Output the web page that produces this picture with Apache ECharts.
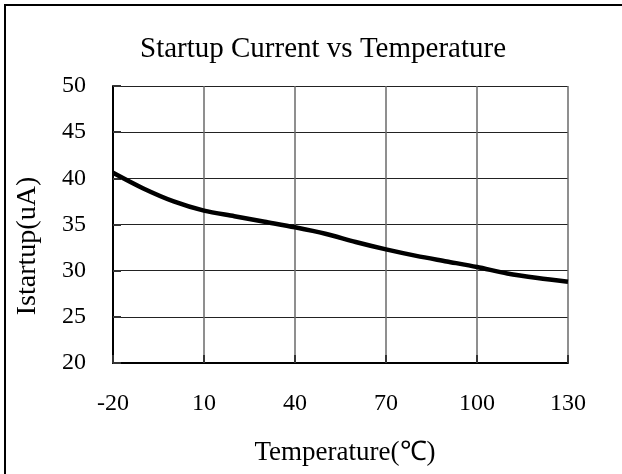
<!DOCTYPE html>
<html>
<head>
<meta charset="utf-8">
<script src="https://cdn.jsdelivr.net/npm/echarts@6/dist/echarts.min.js"></script>
<style>
html,body{margin:0;padding:0;background:#fff;}
#c{width:622px;height:474px;}
</style>
</head>
<body>
<div id="c"></div>
<script>
const titleText = 'Startup Current vs Temperature';
const xName = 'Temperature(\u2103)';
const yName = 'Istartup(uA)';
const temperatures = [-20, -10, 0, 10, 20, 30, 40, 50, 60, 70, 80, 90, 100, 110, 120, 130];
const currents = [40.6, 38.9, 37.5, 36.5, 35.9, 35.3, 34.7, 34.0, 33.1, 32.3, 31.6, 31.0, 30.4, 29.7, 29.2, 28.8];
const xMin = -20, xMax = 130, xStep = 30;
const yMin = 20, yMax = 50, yStep = 5;

const FONT = '"Liberation Serif", "Times New Roman", serif';
const chart = echarts.init(document.getElementById('c'), null, {renderer: 'canvas'});
const seriesData = temperatures.map((t, i) => [t - xMin, currents[i]]);

chart.setOption({
  animation: false,
  backgroundColor: '#fff',
  title: {
    text: titleText,
    left: 318, top: 30, textAlign: 'center',
    textStyle: {fontFamily: FONT, fontSize: 29, fontWeight: 'normal', color: '#000'}
  },
  grid: {left: 113, right: 54, top: 86, bottom: 111, containLabel: false},
  xAxis: {
    type: 'value', min: 0, max: xMax - xMin, interval: xStep,
    axisLine: {show: true, onZero: false, lineStyle: {color: '#000', width: 2}},
    axisTick: {show: true, inside: true, length: 8, lineStyle: {color: '#333', width: 2}},
    axisLabel: {margin: 29, formatter: v => String(v + xMin), fontFamily: FONT, fontSize: 24, color: '#000'},
    splitLine: {show: true, lineStyle: {color: '#6a6a6a', width: 1.5}}
  },
  yAxis: {
    type: 'value', min: yMin, max: yMax, interval: yStep,
    axisLine: {show: true, lineStyle: {color: '#000', width: 2}},
    axisTick: {show: true, inside: true, length: 8, lineStyle: {color: '#333', width: 2}},
    axisLabel: {margin: 27, fontFamily: FONT, fontSize: 24, color: '#000'},
    splitLine: {show: true, lineStyle: {color: '#222', width: 1}}
  },
  graphic: [
    {type: 'rect', shape: {x: 5, y: 5, width: 800, height: 800}, style: {fill: 'none', stroke: '#000', lineWidth: 2}, silent: true},
    {type: 'text', x: 345, y: 453, style: {text: xName, font: '27px ' + FONT, fill: '#000', textAlign: 'center', textVerticalAlign: 'middle'}},
    {type: 'text', x: 28, y: 246, rotation: Math.PI / 2, style: {text: yName, font: '28px ' + FONT, fill: '#000', textAlign: 'center', textVerticalAlign: 'middle'}}
  ],
  series: [{
    type: 'line', data: seriesData, smooth: 0.3, showSymbol: false,
    lineStyle: {color: '#000', width: 4.5}
  }]
});
</script>
</body>
</html>
